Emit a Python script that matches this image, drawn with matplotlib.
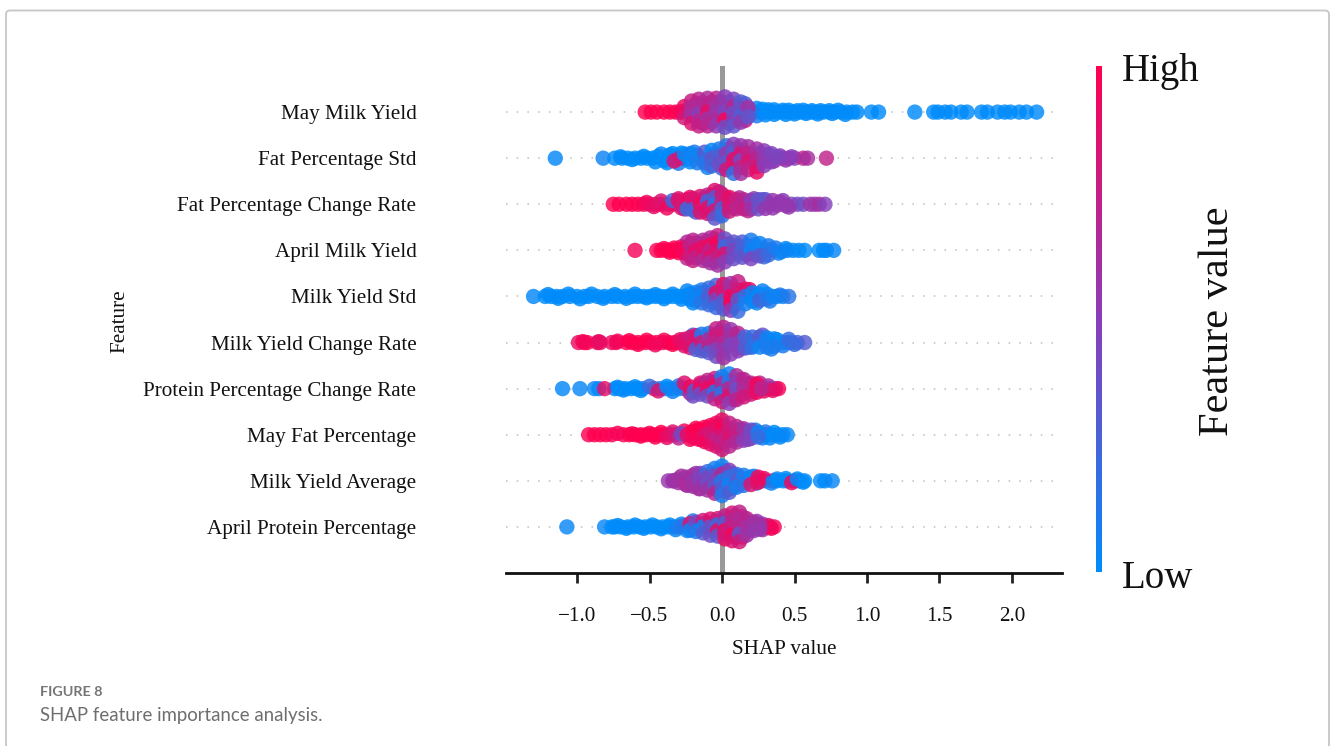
import matplotlib
matplotlib.use("Agg")
import matplotlib.pyplot as plt
from matplotlib.cm import ScalarMappable
from matplotlib.colors import LinearSegmentedColormap
from matplotlib.patches import FancyBboxPatch

W, H = 1330, 746

features = ["April Protein Percentage", "Milk Yield Average", "May Fat Percentage",
            "Protein Percentage Change Rate", "Milk Yield Change Rate", "Milk Yield Std",
            "April Milk Yield", "Fat Percentage Change Rate", "Fat Percentage Std", "May Milk Yield"]
x_ticks = [-1.0, -0.5, 0.0, 0.5, 1.0, 1.5, 2.0]
x_tick_labels = ["\u22121.0", "\u22120.5", "0.0", "0.5", "1.0", "1.5", "2.0"]

# points on the centre line of each row: shap value, feature value
may_milk_tail_x = [-0.53, -0.49, -0.45, -0.40, -0.36, -0.32, -0.29,
                   0.22, 0.26, 0.30, 0.34, 0.38, 0.42, 0.46, 0.50, 0.54, 0.58, 0.62, 0.66, 0.70, 0.74, 0.78, 0.82, 0.86, 0.90,
                   1.03, 1.08, 1.33, 1.46, 1.49, 1.54, 1.58, 1.65, 1.69, 1.79, 1.83, 1.90, 1.95, 1.99, 2.05, 2.10, 2.17]
may_milk_tail_val = [1, 1, 1, 1, 1, 1, 0.95,
                     0.05, 0, 0, 0, 0, 0, 0, 0, 0, 0, 0, 0, 0, 0, 0, 0, 0, 0,
                     0, 0, 0, 0, 0, 0, 0, 0, 0, 0, 0, 0, 0, 0, 0, 0, 0]
fat_std_tail_x = [-1.15, -0.82, -0.74, -0.69, -0.65, -0.60, -0.56, -0.52, -0.48, 0.42, 0.46, 0.50, 0.56, 0.59, 0.72]
fat_std_tail_val = [0.02, 0.05, 0, 0, 0, 0, 0, 0, 0, 0.5, 0.55, 0.5, 0.72, 0.62, 0.72]
fat_rate_tail_x = [-0.75, -0.71, -0.66, -0.62, -0.58, -0.54, -0.50, -0.46, -0.42, -0.37, -0.33,
                   0.48, 0.52, 0.56, 0.61, 0.64, 0.67, 0.71]
fat_rate_tail_val = [1, 1, 1, 1, 1, 0.98, 0.85, 0.8, 0.95, 0.15, 0.9, 0.45, 0.45, 0.4, 0.6, 0.55, 0.62, 0.48]
apr_milk_tail_x = [-0.60, -0.45, -0.42, -0.38, -0.35, -0.32, -0.29, 0.45, 0.49, 0.53, 0.57, 0.67, 0.70, 0.72, 0.77]
apr_milk_tail_val = [0.95, 0.97, 1, 1, 1, 1, 0.95, 0.1, 0, 0.02, 0, 0, 0, 0, 0.02]
yield_std_tail_x = [-1.30, -1.22, -1.18, -1.14, -1.10, -1.05, -1.00, -0.95, -0.92, -0.86, -0.81, -0.76, -0.72,
                    -0.67, -0.62, -0.58, -0.54, -0.50, -0.46, -0.42, -0.38, -0.34, 0.38, 0.42, 0.46]
yield_std_tail_val = [0.02, 0, 0, 0, 0, 0, 0, 0, 0, 0, 0, 0, 0, 0, 0, 0, 0, 0, 0, 0, 0, 0, 0.05, 0, 0.15]
yield_rate_tail_x = [-0.99, -0.95, -0.93, -0.86, -0.84, -0.76, -0.73, -0.66, -0.62, -0.58, -0.53, -0.49, -0.45,
                     -0.41, -0.37, -0.33, -0.29, 0.42, 0.45, 0.48, 0.52, 0.57]
yield_rate_tail_val = [0.92, 1, 1, 0.95, 0.92, 0.92, 0.95, 1, 1, 1, 1, 1, 1, 0.95, 1, 0.95, 0.85, 0.1, 0.05, 0.15, 0.25, 0.3]
prot_rate_tail_x = [-1.10, -0.98, -0.88, -0.85, -0.74, -0.71, -0.67, -0.63, -0.59, -0.55, -0.47, -0.43,
                    -0.39, -0.35, -0.30, -0.26, -0.81, 0.29, 0.33, 0.37, 0.39]
prot_rate_tail_val = [0.02, 0.03, 0.03, 0.02, 0, 0, 0, 0, 0, 0.1, 0.9, 0.1, 0, 0.02, 0, 0.2, 0.9, 0.55, 1, 0.55, 0.98]
may_fat_tail_x = [-0.92, -0.88, -0.84, -0.80, -0.76, -0.68, -0.64, -0.60, -0.56, -0.52, -0.48, -0.44, -0.40,
                  -0.36, -0.32, 0.30, 0.34, 0.38, 0.42, 0.45]
may_fat_tail_val = [1, 1, 1, 1, 0.97, 0.95, 1, 1, 1, 1, 1, 1, 0.97, 0.85, 0.85, 0.05, 0, 0, 0.02, 0.02]
yield_avg_tail_x = [-0.37, -0.33, 0.27, 0.30, 0.35, 0.38, 0.42, 0.45, 0.50, 0.53, 0.57, 0.68, 0.71, 0.76]
yield_avg_tail_val = [0.55, 0.6, 0.9, 0.15, 0.9, 0.02, 0, 0.02, 0.9, 0.05, 0, 0, 0, 0.03]
apr_prot_tail_x = [-1.07, -0.81, -0.76, -0.74, -0.70, -0.65, -0.61, -0.57, -0.53, -0.49, -0.45, -0.41, -0.37, -0.33,
                   0.30, 0.33, 0.36]
apr_prot_tail_val = [0.03, 0.03, 0, 0, 0, 0, 0, 0, 0, 0, 0, 0, 0, 0.05, 0.55, 1, 0.98]

# points just off the centre line and between the swarm's outer points
may_milk_fill_x = [-0.28, -0.24, -0.18, -0.13, -0.13, -0.07, -0.07, -0.07, -0.01, -0.01, -0.01, 0.05, 0.05, 0.05,
                   0.10, 0.10, 0.16, 0.16, 0.24, 0.28, 0.32, 0.36, 0.42, 0.46, 0.52, 0.56, 0.62, 0.68, 0.74, 0.80,
                   0.24, 0.30, 0.36, 0.44, 0.50, 0.58, 0.66, 0.76, 0.85, 0.93]
may_milk_fill_off = [0, 0.04, 0.18, 0.2, -0.24, 0.22, 0.07, -0.22, 0.23, 0.08, -0.08, 0.22, 0.08, -0.24,
                     0.16, -0.15, 0.18, -0.18, 0.08, 0.06, 0.05, 0.05, 0.04, 0.04, 0.03, 0.04, 0.03, 0.03, 0.03, 0.04,
                     -0.08, -0.06, -0.05, -0.05, -0.04, -0.03, -0.04, -0.03, -0.05, 0]
may_milk_fill_val = [1, 0.85, 0.7, 0.75, 0.72, 0.65, 0.62, 0.9, 0.55, 0.6, 0.98, 0.4, 0.35, 0.45,
                     0.35, 0.4, 0.3, 0.85, 0.02, 0, 0, 0, 0, 0, 0, 0, 0, 0, 0, 0,
                     0.1, 0, 0, 0, 0, 0, 0, 0, 0, 0]
fat_std_fill_x = [-0.70, -0.62, -0.54, -0.46, -0.42, -0.38, -0.34, -0.30, -0.28, -0.24, -0.19, -0.14,
                  -0.10, -0.05, 0.0, 0.05, 0.05, 0.10, 0.15, 0.21, 0.26, 0.27, 0.32, 0.36, 0.40, 0.44, 0.48, -0.36]
fat_std_fill_off = [0.03, -0.03, 0.04, -0.08, 0.09, -0.1, 0.1, -0.11, 0.11, -0.02, 0.13, -0.02,
                    -0.2, 0.08, -0.22, 0.2, -0.15, 0.2, 0.13, -0.02, 0.1, -0.1, 0.08, -0.06, 0.05, -0.04, 0.03, 0]
fat_std_fill_val = [0, 0, 0, 0, 0.05, 0, 0, 0.1, 0, 0.05, 0.1, 0.1,
                    0.05, 0.3, 0.2, 0.75, 0.88, 0.9, 0.8, 0.75, 0.55, 0.6, 0.5, 0.55, 0.5, 0.55, 0.5, 0.05]
fat_rate_fill_x = [-0.52, -0.47, -0.42, -0.38, -0.34, -0.30, -0.26, -0.22, -0.18, -0.12, -0.07, -0.07, -0.02, -0.02,
                   0.03, 0.03, 0.08, 0.08, 0.12, 0.17, 0.18, 0.22, 0.27, 0.28, 0.33, 0.38, 0.42, 0.46]
fat_rate_fill_off = [0.04, -0.05, 0.07, -0.08, 0.08, 0.12, -0.1, 0.15, -0.17, 0.14, 0.2, -0.2, 0.27, -0.22,
                     0.14, -0.02, 0.08, -0.08, 0.14, 0.04, -0.14, 0.12, -0.02, 0.1, 0, -0.02, 0.08, -0.06]
fat_rate_fill_val = [0.95, 0.9, 0.85, 0.95, 0.25, 0.85, 0.9, 0.9, 0.3, 0.85, 0.6, 0.3, 0.6, 0.18,
                     0.8, 0.7, 0.85, 0.7, 0.65, 0.7, 0.7, 0.55, 0.35, 0.3, 0.45, 0.55, 0.5, 0.55]
apr_milk_fill_x = [-0.40, -0.36, -0.33, -0.30, -0.28, -0.24, -0.24, -0.20, -0.20, -0.15, -0.15, -0.10, -0.10,
                   -0.05, -0.05, 0.0, 0.0, 0.05, 0.05, 0.11, 0.11, 0.17, 0.17, 0.23, 0.23, 0.29, 0.29, 0.34, 0.39, 0.44]
apr_milk_fill_off = [0.04, -0.04, 0.05, -0.05, 0.08, 0.18, -0.17, 0.22, -0.22, 0.14, -0.14, 0.2, -0.2,
                     0.25, -0.25, 0.15, -0.15, 0.14, -0.14, 0.1, -0.08, 0.1, -0.1, 0.12, -0.1, 0.02, -0.14, 0.02, -0.06, 0.04]
apr_milk_fill_val = [1, 1, 1, 1, 0.95, 0.65, 0.7, 0.7, 0.75, 0.8, 0.75, 0.9, 0.8,
                     0.65, 0.7, 0.95, 0.85, 0.6, 0.3, 0.2, 0.45, 0.25, 0.3, 0.1, 0.35, 0.1, 0.2, 0.15, 0.05, 0.02]
yield_std_fill_x = [-1.20, -1.13, -1.06, -0.98, -0.90, -0.82, -0.74, -0.66, -0.60, -0.52, -0.46, -0.40, -0.34, -0.28,
                    -0.24, -0.20, -0.16, -0.12, -0.07, -0.02, 0.04, 0.08, 0.13, 0.19, 0.24, 0.28, 0.33, 0.40]
yield_std_fill_off = [0.04, -0.04, 0.05, -0.05, 0.05, -0.04, 0.04, -0.04, 0.05, -0.03, 0.04, -0.05, 0.05, -0.06,
                      0.12, -0.14, 0.02, 0.1, -0.12, -0.16, 0.2, -0.22, 0.04, 0.15, -0.14, 0.12, -0.1, 0.03]
yield_std_fill_val = [0, 0, 0, 0, 0, 0, 0, 0, 0, 0, 0, 0, 0, 0,
                      0.02, 0.02, 0.05, 0.1, 0.2, 0.25, 0.65, 0.3, 0.98, 0.9, 0.05, 0.05, 0.1, 0.1]
yield_rate_fill_x = [-0.96, -0.85, -0.72, -0.64, -0.58, -0.52, -0.46, -0.40, -0.34, -0.29, -0.24, -0.20, -0.16,
                     -0.12, -0.07, -0.02, 0.03, 0.08, 0.13, 0.18, 0.19, 0.23, 0.28, 0.28, 0.33, 0.34, 0.38, 0.42, 0.46, 0.50]
yield_rate_fill_off = [0.02, 0.02, 0.03, 0.04, -0.04, 0.05, -0.05, 0.05, -0.04, 0.06, -0.02, 0.16, -0.03,
                       -0.16, 0.13, 0.22, -0.07, 0.18, -0.12, 0.04, -0.1, 0.02, 0.04, 0.16, 0, -0.14, 0.06, -0.07, 0.07, -0.04]
yield_rate_fill_val = [0.95, 0.9, 0.95, 1, 1, 1, 0.95, 0.95, 1, 0.9, 0.75, 0.3, 0.85,
                       0.75, 0.7, 0.65, 0.65, 0.5, 0.55, 0.3, 0.25, 0.15, 0.1, 0.35, 0.05, 0.1, 0.02, 0.1, 0.2, 0.2]
prot_rate_fill_x = [-0.72, -0.68, -0.60, -0.56, -0.50, -0.44, -0.38, -0.34, -0.30, -0.26, -0.22, -0.20, -0.15,
                    -0.12, -0.07, -0.02, -0.02, 0.03, 0.03, 0.08, 0.13, 0.13, 0.18, 0.22, 0.26, 0.29, 0.32, 0.35]
prot_rate_fill_off = [0.03, -0.03, 0.04, -0.04, 0.05, -0.05, 0.05, -0.06, 0.06, 0.12, -0.1, -0.16, 0.08,
                      0.12, 0.14, 0.17, -0.15, 0.05, 0.18, -0.24, 0.2, -0.14, 0.1, -0.06, 0.12, -0.05, 0.06, -0.04]
prot_rate_fill_val = [0, 0, 0, 0, 0.2, 0.85, 0, 0.05, 0.1, 0.85, 0.7, 0.4, 0.65,
                      0.7, 0.8, 0.1, 0.8, 0.75, 0.8, 0.9, 0.65, 0.85, 0.7, 0.6, 0.7, 0.9, 0.6, 0.9]
may_fat_fill_x = [-0.72, -0.62, -0.56, -0.50, -0.46, -0.42, -0.38, -0.34, -0.30, -0.26, -0.22, -0.22, -0.18, -0.14,
                  -0.10, -0.06, -0.02, -0.02, 0.03, 0.03, 0.08, 0.13, 0.18, 0.18, 0.23, 0.28, 0.30, 0.33, 0.36, 0.40]
may_fat_fill_off = [0.03, 0.02, -0.03, 0.03, -0.05, 0.05, -0.06, 0.06, -0.07, 0.08, 0.04, -0.1, 0.14, -0.1,
                    0.14, -0.12, 0.2, -0.18, 0.16, -0.14, -0.12, 0.12, 0.06, -0.1, 0.1, -0.07, 0.06, -0.07, 0.05, -0.05]
may_fat_fill_val = [0.97, 1, 1, 1, 1, 1, 0.9, 0.85, 0.7, 0.95, 1, 0.95, 1, 0.85,
                    0.9, 0.9, 0.95, 0.85, 0.85, 0.8, 0.75, 0.7, 0.35, 0.55, 0.1, 0.05, 0.15, 0.02, 0, 0.02]
yield_avg_fill_x = [-0.34, -0.28, -0.24, -0.22, -0.18, -0.16, -0.12, -0.12, -0.08, -0.08, -0.03, -0.03, 0.02, 0.02,
                    0.07, 0.07, 0.12, 0.12, 0.17, 0.22, 0.24, 0.29, 0.34, 0.38, 0.44, 0.48, 0.52, 0.56]
yield_avg_fill_off = [0, 0.1, -0.1, 0.02, 0.16, -0.17, 0.1, -0.1, 0.15, -0.14, 0.2, -0.2, 0.22, -0.23,
                      0.16, -0.16, 0.08, -0.08, 0.04, 0.1, -0.05, 0.05, -0.05, 0.04, 0.05, -0.04, 0.04, -0.03]
yield_avg_fill_val = [0.58, 0.62, 0.58, 0.6, 0.55, 0.62, 0.5, 0.45, 0.45, 0.55, 0.35, 0.7, 0.25, 0.55,
                      0.1, 0.2, 0.1, 0.2, 0.1, 0.05, 0.15, 0.9, 0.05, 0, 0, 0.9, 0, 0]
apr_prot_fill_x = [-0.72, -0.66, -0.60, -0.54, -0.48, -0.42, -0.36, -0.32, -0.28, -0.24, -0.20, -0.16, -0.11, -0.06,
                   -0.01, 0.04, 0.04, 0.09, 0.09, 0.14, 0.14, 0.19, 0.19, 0.24, 0.28, 0.28, 0.32, 0.34]
apr_prot_fill_off = [0.03, -0.03, 0.04, -0.03, 0.04, -0.04, 0.04, -0.06, 0.06, -0.08, 0.13, -0.03, 0.08, -0.08,
                     0.13, 0.16, -0.14, 0.24, -0.22, 0.22, -0.22, 0.1, -0.08, 0.12, 0.06, -0.06, 0.03, -0.03]
apr_prot_fill_val = [0, 0, 0, 0, 0, 0, 0, 0.05, 0.05, 0.05, 0.15, 0.1, 0.4, 0.9,
                     0.55, 0.72, 0.95, 0.7, 0.85, 0.7, 0.9, 0.65, 0.6, 0.55, 0.55, 0.6, 0.85, 0.95]

# swarm bodies: shap value, offset from the row centre, feature value
may_milk_x = [-0.26, -0.26, -0.21, -0.21, -0.21, -0.21, -0.16, -0.16, -0.16, -0.16, -0.16,
              -0.10, -0.10, -0.10, -0.10, -0.10, -0.04, -0.04, -0.04, -0.04, -0.04,
              0.02, 0.02, 0.02, 0.02, 0.02, 0.08, 0.08, 0.08, 0.08, 0.08,
              0.13, 0.13, 0.13, 0.13, 0.18, 0.18]
may_milk_off = [0.12, -0.12, 0.24, 0.08, -0.08, -0.24, 0.28, 0.12, -0.04, -0.2, -0.3,
                0.3, 0.15, 0, -0.15, -0.3, 0.3, 0.15, 0, -0.15, -0.3,
                0.33, 0.16, 0, -0.17, -0.33, 0.28, 0.12, -0.02, -0.18, -0.3,
                0.22, 0.08, -0.08, -0.22, 0.1, -0.1]
may_milk_val = [0.9, 0.8, 0.75, 0.65, 0.6, 0.85, 0.7, 0.65, 0.5, 0.7, 0.75,
                0.65, 0.7, 0.9, 0.6, 0.7, 0.7, 0.6, 0.55, 0.65, 0.55,
                0.5, 0.55, 0.45, 0.95, 0.4, 0.45, 0.7, 0.4, 0.5, 0.35,
                0.3, 0.4, 0.3, 0.55, 0.6, 0.35]

fat_std_x = [-0.44, -0.40, -0.36, -0.33, -0.29, -0.26, -0.22, -0.22, -0.17, -0.17, -0.12, -0.12,
             -0.07, -0.07, -0.07, -0.02, -0.02, -0.02, 0.03, 0.03, 0.03, 0.03,
             0.08, 0.08, 0.08, 0.08, 0.08, 0.13, 0.13, 0.13, 0.13, 0.13,
             0.18, 0.18, 0.18, 0.18, 0.24, 0.24, 0.24, 0.24, 0.29, 0.29, 0.29, 0.34, 0.34, 0.38]
fat_std_off = [0.04, -0.05, 0.07, -0.06, 0, 0.09, -0.08, 0.1, 0.06, -0.1, 0.13, -0.1,
               0.17, 0, -0.17, 0.2, 0.05, -0.13, 0.27, 0.1, -0.08, -0.25,
               0.3, 0.13, -0.03, -0.2, -0.33, 0.27, 0.1, -0.05, -0.2, -0.33,
               0.25, 0.1, -0.08, -0.25, 0.2, 0, -0.18, -0.3, 0.16, 0, -0.16, 0.1, -0.08, 0.03]
fat_std_val = [0, 0, 0, 0.85, 0.8, 0, 0, 0.05, 0.05, 0.1, 0.3, 0.15,
               0.02, 0.35, 0.25, 0.1, 0.3, 0.4, 0.15, 0.55, 0.35, 0.8,
               0.5, 0.3, 0.9, 0.85, 0.15, 0.55, 0.85, 0.4, 0.7, 0.6,
               0.6, 0.75, 0.85, 0.7, 0.6, 0.7, 0.8, 0.9, 0.5, 0.55, 0.5, 0.45, 0.5, 0.45]

fat_rate_x = [-0.30, -0.28, -0.24, -0.24, -0.20, -0.20, -0.15, -0.15, -0.15, -0.10, -0.10, -0.10, -0.10,
              -0.05, -0.05, -0.05, -0.05, -0.05, 0.0, 0.0, 0.0, 0.0, 0.05, 0.05, 0.05,
              0.10, 0.10, 0.15, 0.15, 0.20, 0.20, 0.25, 0.25, 0.30, 0.30, 0.35, 0.35, 0.40, 0.44]
fat_rate_off = [0.08, -0.08, 0.1, -0.1, 0.12, -0.12, 0.17, 0, -0.17, 0.2, 0.06, -0.08, -0.2,
                0.3, 0.14, 0, -0.14, -0.3, 0.22, 0.06, -0.1, -0.25, 0.15, 0, -0.15,
                0.1, -0.1, 0.1, -0.1, 0.08, -0.1, 0.1, -0.1, 0.1, -0.09, 0.08, -0.08, 0.05, -0.03]
fat_rate_val = [0.85, 0.8, 0.9, 0.2, 0.85, 0.25, 0.85, 0.95, 0.85, 0.7, 0.25, 0.9, 0.85,
                0.85, 0.3, 0.18, 0.85, 0.35, 0.8, 0.75, 0.25, 0.2, 0.9, 0.85, 0.8,
                0.75, 0.7, 0.7, 0.75, 0.5, 0.6, 0.35, 0.4, 0.35, 0.55, 0.55, 0.55, 0.55, 0.55]

apr_milk_x = [-0.26, -0.26, -0.22, -0.22, -0.18, -0.18, -0.18, -0.13, -0.13, -0.13, -0.13,
              -0.08, -0.08, -0.08, -0.08, -0.08, -0.03, -0.03, -0.03, -0.03, -0.03,
              0.02, 0.02, 0.02, 0.02, 0.08, 0.08, 0.08, 0.14, 0.14, 0.14, 0.20, 0.20, 0.20,
              0.26, 0.26, 0.32, 0.32, 0.37, 0.41]
apr_milk_off = [0.05, -0.05, 0.12, -0.12, 0.16, 0, -0.16, 0.22, 0.08, -0.08, -0.22,
                0.27, 0.12, 0, -0.14, -0.27, 0.32, 0.16, 0, -0.16, -0.32,
                0.25, 0.08, -0.08, -0.25, 0.18, 0, -0.18, 0.18, 0, -0.15, 0.22, 0, -0.18,
                0.15, -0.12, 0.1, -0.1, 0.05, -0.03]
apr_milk_val = [1, 0.95, 0.7, 0.75, 0.7, 0.9, 0.72, 0.65, 0.9, 0.85, 0.65,
                0.65, 0.95, 0.7, 0.85, 0.6, 0.75, 0.98, 0.85, 0.75, 0.6,
                0.4, 0.2, 0.85, 0.5, 0.35, 0.45, 0.4, 0.3, 0.25, 0.35, 0.1, 0.05, 0.45,
                0.05, 0.35, 0.1, 0.2, 0.1, 0.05]

yield_std_x = [-0.30, -0.26, -0.22, -0.22, -0.18, -0.18, -0.14, -0.14, -0.14, -0.09, -0.09, -0.09,
               -0.04, -0.04, -0.04, -0.04, 0.01, 0.01, 0.01, 0.01, 0.06, 0.06, 0.06, 0.06, 0.06,
               0.11, 0.11, 0.11, 0.11, 0.16, 0.16, 0.16, 0.21, 0.21, 0.26, 0.26, 0.31, 0.31, 0.35]
yield_std_off = [0, 0, 0.06, -0.06, 0.09, -0.09, 0.14, 0, -0.14, 0.18, 0.02, -0.18,
                 0.24, 0.08, -0.08, -0.24, 0.26, 0.1, -0.1, -0.27, 0.28, 0.15, 0, -0.15, -0.3,
                 0.32, 0.14, -0.08, -0.32, 0.16, 0, -0.16, 0.08, -0.1, 0.05, -0.08, 0.05, -0.05, 0]
yield_std_val = [0, 0, 0.02, 0.02, 0.05, 0.05, 0.1, 0.05, 0.15, 0.2, 0.3, 0.2,
                 0.25, 0.9, 0.45, 0.2, 0.92, 0.8, 0.3, 0.3, 0.55, 0.65, 0.95, 0.98, 0.5,
                 0.75, 0.8, 0.3, 0.2, 0.88, 0.15, 0.08, 0.05, 0.02, 0, 0.25, 0.05, 0.15, 0.05]

yield_rate_x = [-0.26, -0.26, -0.22, -0.22, -0.18, -0.18, -0.14, -0.14, -0.14, -0.09, -0.09, -0.09, -0.09,
                -0.04, -0.04, -0.04, -0.04, -0.04, 0.01, 0.01, 0.01, 0.01, 0.01, 0.06, 0.06, 0.06, 0.06,
                0.11, 0.11, 0.11, 0.16, 0.16, 0.21, 0.21, 0.26, 0.26, 0.31, 0.31, 0.36, 0.36]
yield_rate_off = [0.07, -0.07, 0.11, -0.11, 0.15, -0.15, 0.18, 0, -0.18, 0.2, 0.07, -0.07, -0.22,
                  0.3, 0.15, 0, -0.15, -0.3, 0.33, 0.17, 0, -0.17, -0.33, 0.28, 0.12, -0.05, -0.25,
                  0.2, 0, -0.18, 0.12, -0.12, 0.12, -0.1, 0.12, -0.1, 0.1, -0.1, 0.08, -0.08]
yield_rate_val = [0.85, 0.9, 0.8, 0.85, 0.85, 0.3, 0.1, 0.8, 0.3, 0.1, 0.65, 0.7, 0.3,
                  0.75, 0.8, 0.7, 0.45, 0.4, 0.7, 0.8, 0.65, 0.55, 0.6, 0.55, 0.6, 0.45, 0.5,
                  0.7, 0.5, 0.5, 0.25, 0.3, 0.2, 0.15, 0.3, 0.05, 0.05, 0.1, 0.02, 0.1]

prot_rate_x = [-0.22, -0.19, -0.15, -0.15, -0.15, -0.10, -0.10, -0.10, -0.05, -0.05, -0.05, -0.05,
               0.0, 0.0, 0.0, 0.0, 0.05, 0.05, 0.05, 0.05, 0.05, 0.10, 0.10, 0.10, 0.10,
               0.15, 0.15, 0.15, 0.20, 0.20, 0.24, 0.24, 0.27]
prot_rate_off = [0.04, -0.05, 0.12, 0, -0.12, 0.18, 0, -0.16, 0.22, 0.08, -0.07, -0.22,
                 0.26, 0.1, -0.1, -0.28, 0.32, 0.16, 0, -0.16, -0.32, 0.28, 0.12, -0.02, -0.24,
                 0.2, 0, -0.18, 0.12, -0.12, 0.1, -0.08, 0]
prot_rate_val = [0.92, 0.3, 0.85, 0.92, 0.4, 0.7, 0.92, 0.4, 0.75, 0.92, 0.15, 0.7,
                 0.1, 0.65, 0.15, 0.8, 0.05, 0.15, 0.7, 0.85, 0.5, 0.65, 0.5, 0.4, 0.7,
                 0.7, 0.65, 0.8, 0.7, 0.8, 0.95, 0.92, 0.7]

may_fat_x = [-0.28, -0.24, -0.20, -0.20, -0.16, -0.16, -0.12, -0.12, -0.12, -0.08, -0.08, -0.08,
             -0.04, -0.04, -0.04, -0.04, 0.0, 0.0, 0.0, 0.0, 0.0, 0.05, 0.05, 0.05, 0.05,
             0.10, 0.10, 0.10, 0.15, 0.15, 0.20, 0.20, 0.25, 0.25]
may_fat_off = [0.02, 0, 0.07, -0.06, 0.11, -0.1, 0.16, 0, -0.15, 0.2, 0.03, -0.2,
               0.25, 0.1, -0.08, -0.25, 0.32, 0.14, 0, -0.14, -0.32, 0.25, 0.08, -0.08, -0.25,
               0.18, 0, -0.16, 0.13, -0.12, 0.1, -0.08, 0.05, -0.05]
may_fat_val = [0.4, 0.9, 1, 0.95, 1, 0.95, 1, 0.85, 0.95, 0.95, 0.8, 0.9,
               0.95, 0.85, 0.7, 0.85, 0.9, 1, 0.85, 0.7, 0.8, 0.75, 0.8, 0.85, 0.7,
               0.7, 0.75, 0.65, 0.6, 0.5, 0.4, 0.45, 0.05, 0.2]

yield_avg_x = [-0.30, -0.30, -0.25, -0.25, -0.20, -0.20, -0.20, -0.15, -0.15, -0.15, -0.15,
               -0.10, -0.10, -0.10, -0.10, -0.05, -0.05, -0.05, -0.05, -0.05,
               0.0, 0.0, 0.0, 0.0, 0.0, 0.05, 0.05, 0.05, 0.05, 0.10, 0.10, 0.10,
               0.15, 0.15, 0.20, 0.20, 0.25, 0.25]
yield_avg_off = [0.04, -0.04, 0.08, -0.08, 0.12, 0, -0.12, 0.16, 0.05, -0.05, -0.17,
                 0.2, 0.07, -0.07, -0.2, 0.27, 0.12, 0, -0.13, -0.27, 0.32, 0.15, 0, -0.15, -0.32,
                 0.23, 0.08, -0.08, -0.25, 0.14, 0, -0.14, 0.12, -0.1, 0.08, -0.08, 0.08, -0.03]
yield_avg_val = [0.58, 0.6, 0.6, 0.65, 0.62, 0.55, 0.6, 0.5, 0.45, 0.5, 0.6,
                 0.2, 0.45, 0.4, 0.6, 0.1, 0.4, 0.45, 0.35, 0.7, 0.05, 0.7, 0.1, 0.3, 0.1,
                 0.5, 0.15, 0.05, 0.3, 0.2, 0.3, 0.08, 0.1, 0.15, 0.05, 0.85, 0.95, 0.9]

apr_prot_x = [-0.30, -0.26, -0.22, -0.22, -0.18, -0.18, -0.13, -0.13, -0.13, -0.08, -0.08, -0.08,
              -0.03, -0.03, -0.03, -0.03, 0.02, 0.02, 0.02, 0.02, 0.02,
              0.07, 0.07, 0.07, 0.07, 0.07, 0.12, 0.12, 0.12, 0.12, 0.12,
              0.17, 0.17, 0.17, 0.22, 0.22, 0.26, 0.26]
apr_prot_off = [0, 0.03, 0.07, -0.07, 0.1, -0.1, 0.14, 0, -0.13, 0.17, 0, -0.18,
                0.18, 0.05, -0.08, -0.2, 0.24, 0.08, -0.08, -0.26, -0.14,
                0.3, 0.15, 0, -0.17, -0.3, 0.32, 0.15, 0, -0.16, -0.32,
                0.18, 0, -0.18, 0.1, -0.08, 0.05, -0.05]
apr_prot_val = [0.1, 0.15, 0.85, 0.05, 0.4, 0.1, 0.8, 0.05, 0.3, 0.85, 0.35, 0.4,
                0.8, 0.2, 0.9, 0.3, 0.7, 0.3, 0.95, 0.9, 0.8,
                0.8, 0.7, 0.75, 0.95, 0.85, 0.72, 0.65, 0.7, 0.35, 0.8,
                0.7, 0.62, 0.6, 0.6, 0.55, 0.6, 0.55]

tails = [(apr_prot_tail_x, apr_prot_tail_val), (yield_avg_tail_x, yield_avg_tail_val),
         (may_fat_tail_x, may_fat_tail_val), (prot_rate_tail_x, prot_rate_tail_val),
         (yield_rate_tail_x, yield_rate_tail_val), (yield_std_tail_x, yield_std_tail_val),
         (apr_milk_tail_x, apr_milk_tail_val), (fat_rate_tail_x, fat_rate_tail_val),
         (fat_std_tail_x, fat_std_tail_val), (may_milk_tail_x, may_milk_tail_val)]
fills = [(apr_prot_fill_x, apr_prot_fill_off, apr_prot_fill_val), (yield_avg_fill_x, yield_avg_fill_off, yield_avg_fill_val),
         (may_fat_fill_x, may_fat_fill_off, may_fat_fill_val), (prot_rate_fill_x, prot_rate_fill_off, prot_rate_fill_val),
         (yield_rate_fill_x, yield_rate_fill_off, yield_rate_fill_val), (yield_std_fill_x, yield_std_fill_off, yield_std_fill_val),
         (apr_milk_fill_x, apr_milk_fill_off, apr_milk_fill_val), (fat_rate_fill_x, fat_rate_fill_off, fat_rate_fill_val),
         (fat_std_fill_x, fat_std_fill_off, fat_std_fill_val), (may_milk_fill_x, may_milk_fill_off, may_milk_fill_val)]
bodies = [(apr_prot_x, apr_prot_off, apr_prot_val), (yield_avg_x, yield_avg_off, yield_avg_val),
          (may_fat_x, may_fat_off, may_fat_val), (prot_rate_x, prot_rate_off, prot_rate_val),
          (yield_rate_x, yield_rate_off, yield_rate_val), (yield_std_x, yield_std_off, yield_std_val),
          (apr_milk_x, apr_milk_off, apr_milk_val), (fat_rate_x, fat_rate_off, fat_rate_val),
          (fat_std_x, fat_std_off, fat_std_val), (may_milk_x, may_milk_off, may_milk_val)]

cmap = LinearSegmentedColormap.from_list("shap_red_blue", ["#008bfb", "#8a3db8", "#ff0051"])
SERIF = "Liberation Serif"

fig = plt.figure(figsize=(W / 100, H / 100), dpi=100)

# card frame and caption live in a full-figure pixel axes
bg = fig.add_axes([0, 0, 1, 1])
bg.set_xlim(0, W)
bg.set_ylim(H, 0)
bg.axis("off")
bg.add_patch(FancyBboxPatch((6, 10.5), 1323, 780, boxstyle="round,pad=0,rounding_size=4",
                            fc="white", ec="#c6c6c6", lw=1.3))
bg.text(40, 692, "FIGURE 8", family="Lato", weight="bold", fontsize=10.4, color="#757575", va="center")
bg.text(40, 715.5, "SHAP feature importance analysis.", family="Lato", fontsize=13.4, color="#6e6e6e", va="center")

left, right, top, bottom = 506, 1062, 66, 573
ax = fig.add_axes([left / W, 1 - bottom / H, (right - left) / W, (bottom - top) / H])
ax.patch.set_alpha(0)
ax.set_xlim(-1.49, 2.345)
ax.set_ylim(-1, 10)

for i in range(len(features)):
    ax.axhline(i, color="#cccccc", lw=1.4, ls=(0, (0.8, 4.7)), zorder=1)
ax.axvline(0, color="#999999", lw=3.6, zorder=2)

for i in range(len(features)):
    tx, tv = tails[i]
    fx, fo, fv = fills[i]
    bx, bo, bv = bodies[i]
    ax.scatter(tx, [i] * len(tx), c=tv, cmap=cmap, vmin=0, vmax=1, s=122, alpha=0.82, lw=0, zorder=3)
    ax.scatter(fx, [i + o for o in fo], c=fv, cmap=cmap, vmin=0, vmax=1, s=122, alpha=0.85, lw=0, zorder=3)
    ax.scatter(bx, [i + o for o in bo], c=bv, cmap=cmap, vmin=0, vmax=1, s=122, alpha=0.85, lw=0, zorder=3)

ax.set_yticks(range(len(features)))
ax.set_yticklabels(features, family=SERIF, fontsize=15.2, color="#111111")
ax.tick_params(axis="y", length=0, pad=64.5)
ax.set_xticks(x_ticks)
ax.set_xticklabels(x_tick_labels, family=SERIF, fontsize=15.2, color="#111111")
ax.tick_params(axis="x", length=7, width=2, color="#222222", pad=17.5)
for side in ["top", "left", "right"]:
    ax.spines[side].set_visible(False)
ax.spines["bottom"].set_linewidth(2)
ax.spines["bottom"].set_color("#111111")

bg.text(784, 650, "SHAP value", family=SERIF, fontsize=15.2, color="#111111", ha="center", va="center")
bg.text(120, 321, "Feature", family=SERIF, fontsize=15.2, color="#111111", rotation=90, ha="center", va="center")

cax = fig.add_axes([1096 / W, 1 - 572 / H, 6 / W, 506 / H])
cb = fig.colorbar(ScalarMappable(cmap=cmap), cax=cax)
cb.set_ticks([])
cb.outline.set_visible(False)
bg.text(1122, 71, "High", family=SERIF, fontsize=28, color="#111111", va="center")
bg.text(1122, 579, "Low", family=SERIF, fontsize=28, color="#111111", va="center")
bg.text(1218, 321, "Feature value", family=SERIF, fontsize=30.5, color="#111111", rotation=90,
        ha="center", va="center")

fig.savefig("out.png", dpi=100)
